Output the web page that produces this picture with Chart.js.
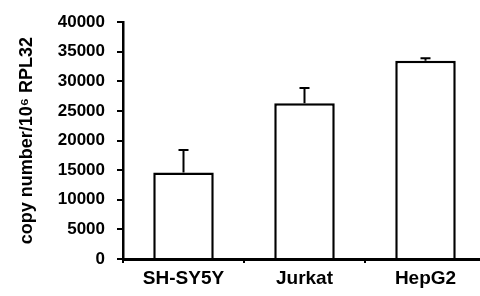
<!DOCTYPE html>
<html>
<head>
<meta charset="utf-8">
<script src="https://cdn.jsdelivr.net/npm/chart.js@4.4.0/dist/chart.umd.min.js"></script>
<style>
  html, body { margin: 0; padding: 0; background: #fff; overflow: hidden; }
  canvas { display: block; }
</style>
</head>
<body>
<canvas id="expChart" width="486" height="296"></canvas>
<script>
// data
const cellLines = ["SH-SY5Y", "Jurkat", "HepG2"];
const copyNumber = [14600, 26300, 33500];
const errorSD = [3800, 2600, 400];
const yTicks = [0, 5000, 10000, 15000, 20000, 25000, 30000, 35000, 40000];

Chart.defaults.font.family = "'Liberation Sans', Arial, sans-serif";
Chart.defaults.color = "#000";

// upward-only error bars with a cap
const errorBars = {
  id: "errorBars",
  afterDatasetsDraw(chart) {
    const { ctx, scales } = chart;
    const meta = chart.getDatasetMeta(0);
    ctx.save();
    ctx.strokeStyle = "#000";
    ctx.lineWidth = 2;
    meta.data.forEach((bar, i) => {
      const x = bar.x;
      const yTop = scales.y.getPixelForValue(copyNumber[i]);
      const yErr = scales.y.getPixelForValue(copyNumber[i] + errorSD[i]);
      ctx.beginPath();
      ctx.moveTo(x, yTop);
      ctx.lineTo(x, yErr);
      ctx.moveTo(x - 5, yErr);
      ctx.lineTo(x + 5, yErr);
      ctx.stroke();
    });
    ctx.restore();
  },
};

const ctx = document.getElementById("expChart").getContext("2d");
new Chart(ctx, {
  type: "bar",
  data: {
    labels: cellLines,
    datasets: [
      {
        data: copyNumber,
        backgroundColor: "#fff",
        borderColor: "#000",
        borderWidth: 2.5,
        borderSkipped: "bottom",
        barPercentage: 0.5,
        categoryPercentage: 1,
      },
    ],
  },
  options: {
    responsive: false,
    animation: false,
    layout: {
      padding: { left: 16, top: 22, right: 0, bottom: 0 },
    },
    plugins: {
      legend: { display: false },
      tooltip: { enabled: false },
    },
    scales: {
      x: {
        border: { color: "#000", width: 3 },
        grid: {
          offset: true,
          drawOnChartArea: false,
          drawTicks: true,
          tickLength: 4,
          color: "#000",
          lineWidth: 2,
        },
        ticks: {
          padding: 4,
          font: { size: 19, weight: "bold" },
        },
        afterFit: (s) => { s.height = 37; },
      },
      y: {
        min: 0,
        max: 40000,
        border: { color: "#000", width: 2.5 },
        grid: {
          drawOnChartArea: false,
          drawTicks: true,
          tickLength: 6,
          color: "#000",
          lineWidth: 2,
        },
        afterBuildTicks: (s) => { s.ticks = yTicks.map((v) => ({ value: v })); },
        ticks: {
          padding: 12,
          font: { size: 17, weight: "bold" },
          callback: (v) => String(v),
        },
        title: {
          display: true,
          text: "copy number/10⁶ RPL32",
          font: { size: 18, weight: "bold" },
          padding: 0,
        },
        afterFit: (s) => { s.width = 107; },
      },
    },
  },
  plugins: [errorBars],
});
</script>
</body>
</html>
